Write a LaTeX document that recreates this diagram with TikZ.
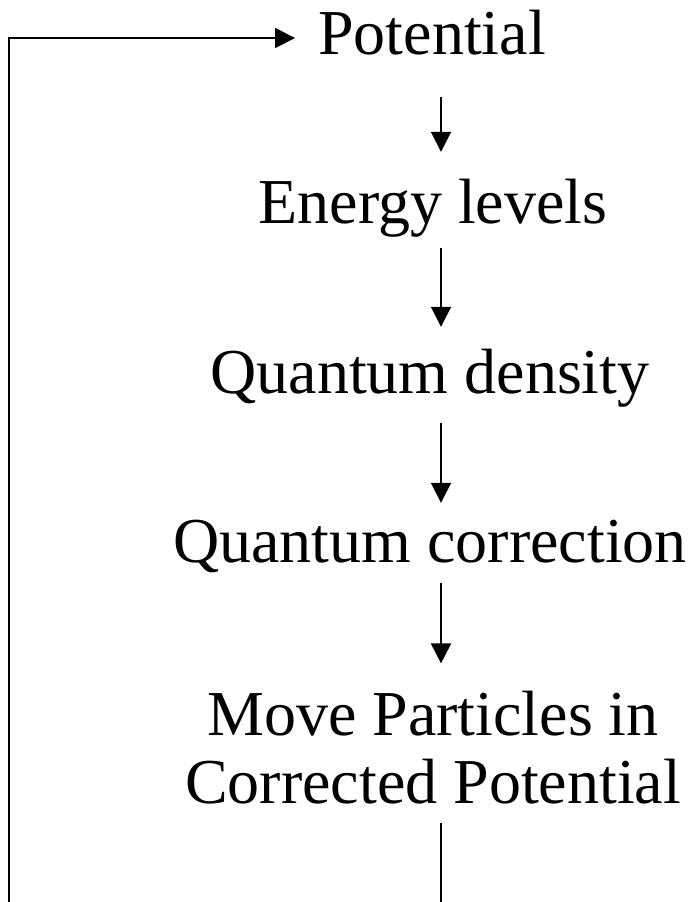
\documentclass[tikz,border=0pt]{standalone}
\usepackage{fontspec}
\setmainfont{Liberation Serif}
\usepackage{tikz}
\usetikzlibrary{arrows.meta, positioning, calc}

\begin{document}
\begin{tikzpicture}[
    x=1pt, y=-1pt,
    stage/.style={inner sep=0pt, anchor=base, text height=46pt, text depth=14pt, font=\fontsize{64}{68}\selectfont},
    stagetwo/.style={inner sep=0pt, anchor=base, align=center, font=\fontsize{64}{68}\selectfont},
    flow/.style={-{Triangle[length=20pt, width=20pt]}, line width=1.9pt},
    loop/.style={line width=1.9pt, -{Triangle[length=20pt, width=20pt]}},
]
\useasboundingbox (0,0) rectangle (695,902);
\clip (0,0) rectangle (695,902);

% Nodes
\node [stage] (pot) at (432,54) {Potential};
\node [stage] (energy) at (433,223) {Energy levels};
\node [stage] (qdens) at (430,393) {Quantum density};
\node [stage] (qcorr) at (430,562) {Quantum correction};
\node [stagetwo] (move) at (433,803) {Move Particles in\\Corrected Potential};
\coordinate (axis) at (441,0);
\coordinate (loopfoot) at (9,915);

% Arcs/Paths
\draw [flow, shorten <=29pt, shorten >=25pt] (axis |- pot.south) -- (axis |- energy.north);
\draw [flow, shorten <=11pt, shorten >=20pt] (axis |- energy.south) -- (axis |- qdens.north);
\draw [flow, shorten <=16pt, shorten >=13pt] (axis |- qdens.south) -- (axis |- qcorr.north);
\draw [flow, shorten <=7pt, shorten >=27pt] (axis |- qcorr.south) -- (axis |- move.north);

% Feedback loop back to the potential
\draw [loop, shorten >=23pt] ([yshift=-19pt]axis |- move.south) -- (axis |- loopfoot) -| (loopfoot) |- (pot.west);

\end{tikzpicture}
\end{document}
